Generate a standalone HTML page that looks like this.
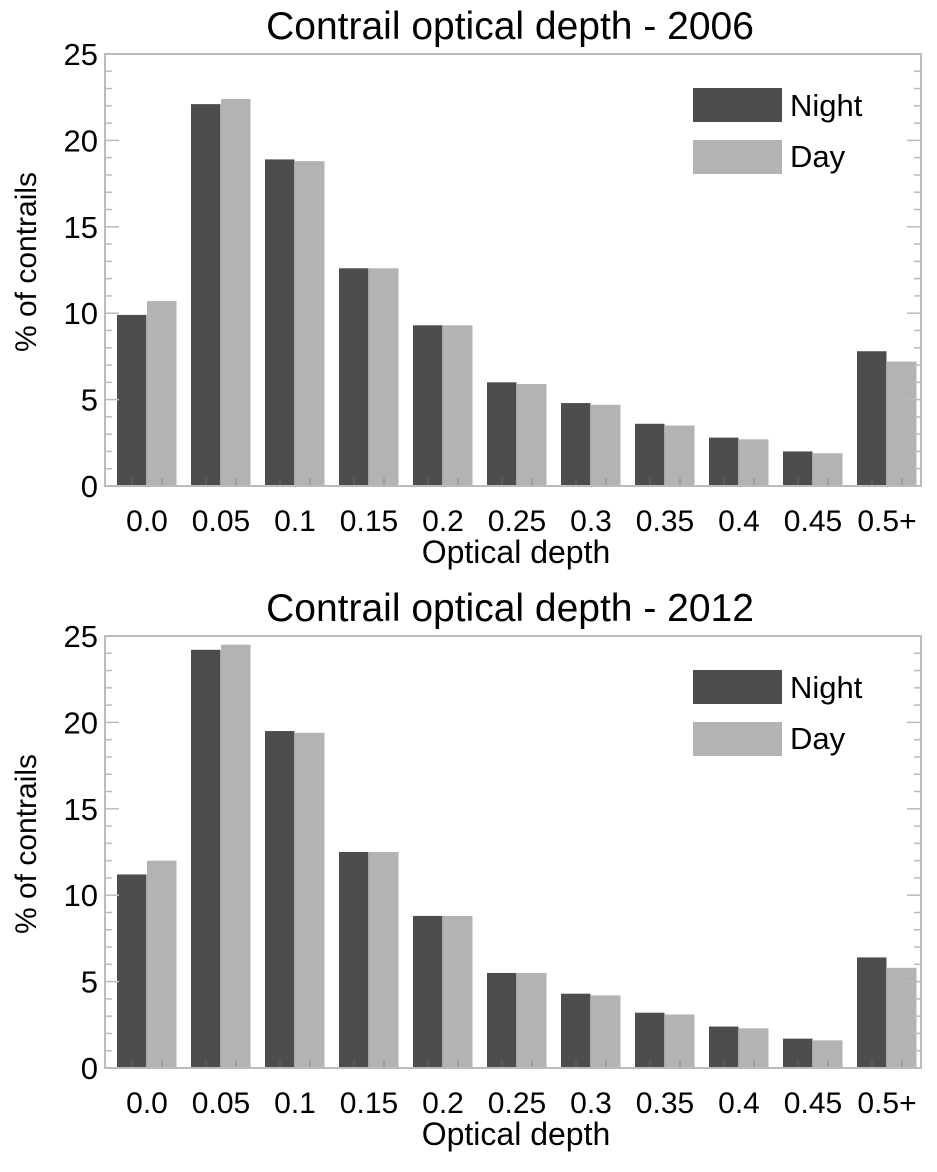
<!DOCTYPE html>
<html><head><meta charset="utf-8"><style>
body{margin:0;background:#fff;}
svg text{font-family:"Liberation Sans",sans-serif;fill:#000;}
</style></head><body>
<svg id="chart" width="937" height="1167" xmlns="http://www.w3.org/2000/svg"></svg>
<script>
const categories=["0.0","0.05","0.1","0.15","0.2","0.25","0.3","0.35","0.4","0.45","0.5+"];
const yTicks=[0,5,10,15,20,25];
const titles=["Contrail optical depth - 2006","Contrail optical depth - 2012"];
const night2006=[9.9,22.1,18.9,12.6,9.3,6.0,4.8,3.6,2.8,2.0,7.8];
const day2006=[10.7,22.4,18.8,12.6,9.3,5.9,4.7,3.5,2.7,1.9,7.2];
const night2012=[11.2,24.2,19.5,12.5,8.8,5.5,4.3,3.2,2.4,1.7,6.4];
const day2012=[12.0,24.5,19.4,12.5,8.8,5.5,4.2,3.1,2.3,1.6,5.8];
const svg=document.getElementById('chart');
const NS='http://www.w3.org/2000/svg';
function mk(tag,attrs,parent){const e=document.createElementNS(NS,tag);for(const k in attrs)e.setAttribute(k,attrs[k]);(parent||svg).appendChild(e);return e;}
const L=105,R=921,H=432;
function drawPanel(idx,top,night,day){
  const g=mk('g',{});
  
  
  const bottom=top+H;
  const y=v=>bottom-v/25*H;
  const xc=i=>147+74*i;
  const t=mk('text',{x:510,y:top-15,'font-size':39,'text-anchor':'middle'},g);t.textContent=titles[idx];
  
  for(let i=0;i<categories.length;i++){
    const b1=mk('rect',{x:xc(i)-30,y:y(night[i]),width:29.5,height:bottom-y(night[i]),fill:'#4d4d4d'},g);
    
    const b2=mk('rect',{x:xc(i),y:y(day[i]),width:29.5,height:bottom-y(day[i]),fill:'#b3b3b3'},g);
    
    mk('line',{x1:xc(i)-15,x2:xc(i)-15,y1:bottom,y2:bottom-8,stroke:'#666','stroke-width':1},g);
    mk('line',{x1:xc(i)+15,x2:xc(i)+15,y1:bottom,y2:bottom-8,stroke:'#888','stroke-width':1},g);
    const tl=mk('text',{x:xc(i),y:bottom+45,'font-size':30,'text-anchor':'middle'},g);tl.textContent=categories[i];
    
  }
  for(let v=0;v<=25;v++){
    const len=v%5===0?14:7;
    mk('line',{x1:L,x2:L+len,y1:y(v),y2:y(v),stroke:'#bbb','stroke-width':1.5},g);
    mk('line',{x1:R,x2:R-len,y1:y(v),y2:y(v),stroke:'#bbb','stroke-width':1.5},g);
  }
  yTicks.forEach(v=>{const tl=mk('text',{x:L-7,y:y(v)+11,'font-size':31,'text-anchor':'end'},g);tl.textContent=v;
    });
  mk('rect',{x:L,y:top,width:R-L,height:H,fill:'none',stroke:'#bbb','stroke-width':2},g);
  const yl=mk('text',{x:0,y:0,'font-size':30,'text-anchor':'middle',transform:`translate(36,${top+H/2-8}) rotate(-90)`},g);yl.textContent='% of contrails';
  
  const xl=mk('text',{x:516,y:bottom+77,'font-size':32,'text-anchor':'middle'},g);xl.textContent='Optical depth';
  
  const ln=mk('rect',{x:693,y:top+34,width:89,height:34,fill:'#4d4d4d'},g);
  
  const lt=mk('text',{x:790,y:top+62,'font-size':31},g);lt.textContent='Night';
  
  const ld=mk('rect',{x:693,y:top+86,width:89,height:34,fill:'#b3b3b3'},g);
  
  const dt=mk('text',{x:790,y:top+113,'font-size':31},g);dt.textContent='Day';
  
}
drawPanel(0,54,night2006,day2006);
drawPanel(1,636,night2012,day2012);
</script>
</body></html>
